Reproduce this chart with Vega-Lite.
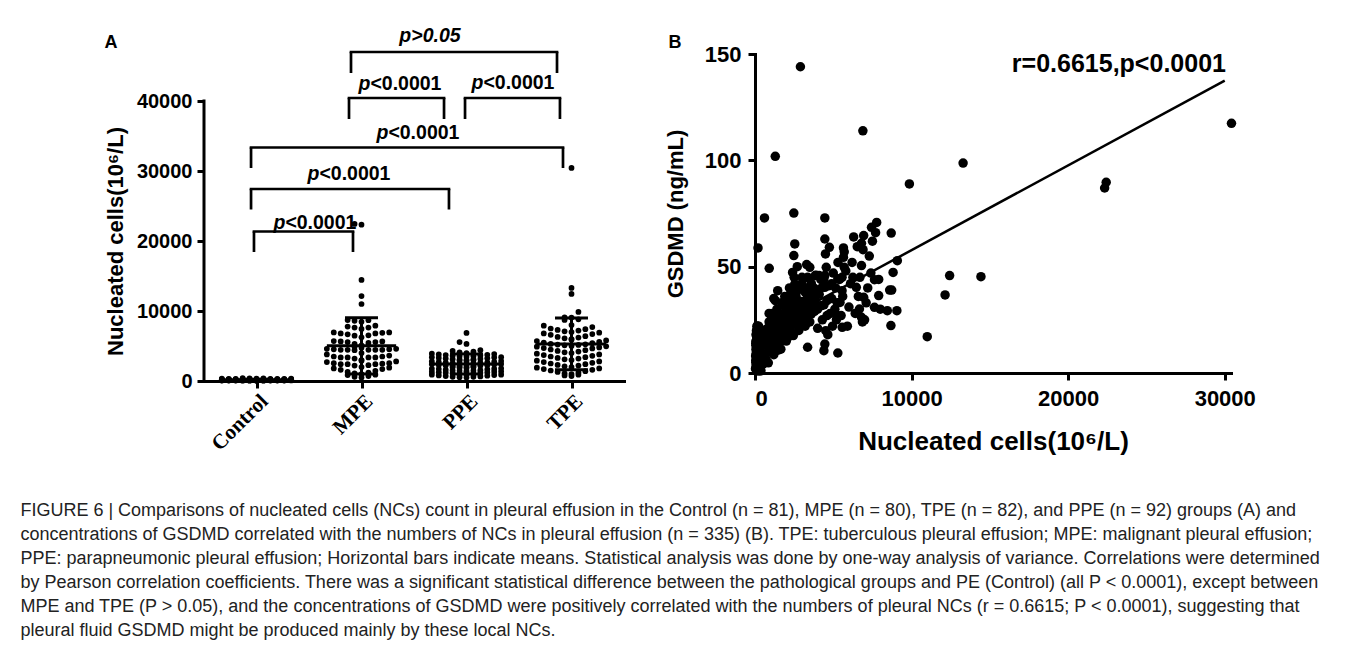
{
"$schema": "https://vega.github.io/schema/vega-lite/v6.json",
"background": "white",
"padding": {"left": 20, "top": 25, "right": 5, "bottom": 5},
"spacing": 40,
"title": {
"text": [
"FIGURE 6 | Comparisons of nucleated cells (NCs) count in pleural effusion in the Control (n = 81), MPE (n = 80), TPE (n = 82), and PPE (n = 92) groups (A) and",
"concentrations of GSDMD correlated with the numbers of NCs in pleural effusion (n = 335) (B). TPE: tuberculous pleural effusion; MPE: malignant pleural effusion;",
"PPE: parapneumonic pleural effusion; Horizontal bars indicate means. Statistical analysis was done by one-way analysis of variance. Correlations were determined",
"by Pearson correlation coefficients. There was a significant statistical difference between the pathological groups and PE (Control) (all P < 0.0001), except between",
"MPE and TPE (P > 0.05), and the concentrations of GSDMD were positively correlated with the numbers of pleural NCs (r = 0.6615; P < 0.0001), suggesting that",
"pleural fluid GSDMD might be produced mainly by these local NCs."
],
"orient": "bottom", "anchor": "start", "frame": "bounds", "offset": 48, "dx": -84,
"font": "Liberation Sans", "fontSize": 18, "fontWeight": "normal", "color": "#222", "lineHeight": 24, "baseline": "top"
},
"datasets": {
"pts": [
{"g":"Control","nc":30,"gs":2},{"g":"Control","nc":40,"gs":8},{"g":"Control","nc":50,"gs":14},{"g":"Control","nc":55,"gs":5},{"g":"Control","nc":60,"gs":11},{"g":"Control","nc":65,"gs":18},{"g":"Control","nc":70,"gs":3},{"g":"Control","nc":75,"gs":9},{"g":"Control","nc":80,"gs":15},{"g":"Control","nc":85,"gs":6},
{"g":"Control","nc":90,"gs":12},{"g":"Control","nc":95,"gs":20},{"g":"Control","nc":100,"gs":1},{"g":"Control","nc":105,"gs":7},{"g":"Control","nc":110,"gs":13},{"g":"Control","nc":115,"gs":4},{"g":"Control","nc":120,"gs":10},{"g":"Control","nc":125,"gs":17},{"g":"Control","nc":130,"gs":22},{"g":"Control","nc":135,"gs":8.5},
{"g":"Control","nc":140,"gs":2},{"g":"Control","nc":145,"gs":8},{"g":"Control","nc":150,"gs":14},{"g":"Control","nc":155,"gs":5},{"g":"Control","nc":160,"gs":11},{"g":"Control","nc":165,"gs":18},{"g":"Control","nc":170,"gs":3},{"g":"Control","nc":175,"gs":9},{"g":"Control","nc":180,"gs":15},{"g":"Control","nc":185,"gs":6},
{"g":"Control","nc":190,"gs":12},{"g":"Control","nc":193,"gs":58.8},{"g":"Control","nc":200,"gs":1},{"g":"Control","nc":205,"gs":7},{"g":"Control","nc":210,"gs":13},{"g":"Control","nc":215,"gs":4},{"g":"Control","nc":220,"gs":10},{"g":"Control","nc":225,"gs":17},{"g":"Control","nc":230,"gs":22},{"g":"Control","nc":240,"gs":8.5},
{"g":"Control","nc":250,"gs":2},{"g":"Control","nc":260,"gs":8},{"g":"Control","nc":270,"gs":14},{"g":"Control","nc":280,"gs":5},{"g":"Control","nc":290,"gs":11},{"g":"Control","nc":300,"gs":18},{"g":"Control","nc":310,"gs":3},{"g":"Control","nc":320,"gs":9},{"g":"Control","nc":330,"gs":15},{"g":"Control","nc":340,"gs":6},
{"g":"Control","nc":350,"gs":12},{"g":"Control","nc":360,"gs":20},{"g":"Control","nc":380,"gs":1},{"g":"Control","nc":400,"gs":7},{"g":"Control","nc":60,"gs":13},{"g":"Control","nc":80,"gs":4},{"g":"Control","nc":100,"gs":10},{"g":"Control","nc":120,"gs":17},{"g":"Control","nc":140,"gs":22},{"g":"Control","nc":160,"gs":8.5},
{"g":"Control","nc":180,"gs":2},{"g":"Control","nc":200,"gs":8},{"g":"Control","nc":220,"gs":14},{"g":"Control","nc":110,"gs":5},{"g":"Control","nc":130,"gs":11},{"g":"Control","nc":150,"gs":18},{"g":"Control","nc":170,"gs":3},{"g":"Control","nc":90,"gs":9},{"g":"Control","nc":70,"gs":15},{"g":"Control","nc":50,"gs":6},
{"g":"Control","nc":250,"gs":12},{"g":"Control","nc":270,"gs":20},{"g":"Control","nc":300,"gs":1},{"g":"Control","nc":150,"gs":7},{"g":"Control","nc":100,"gs":13},{"g":"Control","nc":120,"gs":4},{"g":"Control","nc":140,"gs":10},{"g":"Control","nc":160,"gs":17},{"g":"Control","nc":180,"gs":22},{"g":"Control","nc":200,"gs":8.5},
{"g":"Control","nc":130,"gs":2},
{"g":"MPE","nc":8700,"gs":65.8},{"g":"MPE","nc":8680,"gs":22.3},{"g":"MPE","nc":8600,"gs":39},{"g":"MPE","nc":8450,"gs":29.3},{"g":"MPE","nc":7900,"gs":36.4},{"g":"MPE","nc":7630,"gs":43.9},{"g":"MPE","nc":7770,"gs":70.8},{"g":"MPE","nc":7440,"gs":68.5},{"g":"MPE","nc":7630,"gs":30.9},{"g":"MPE","nc":6940,"gs":64.6},
{"g":"MPE","nc":6530,"gs":59.4},{"g":"MPE","nc":6800,"gs":50.5},{"g":"MPE","nc":6250,"gs":45},{"g":"MPE","nc":6470,"gs":40.3},{"g":"MPE","nc":6940,"gs":35.6},{"g":"MPE","nc":6670,"gs":30.1},{"g":"MPE","nc":6800,"gs":26.2},{"g":"MPE","nc":5650,"gs":58.8},{"g":"MPE","nc":5650,"gs":54.4},{"g":"MPE","nc":5700,"gs":49.7},
{"g":"MPE","nc":5560,"gs":45},{"g":"MPE","nc":5560,"gs":38.7},{"g":"MPE","nc":5430,"gs":33.2},{"g":"MPE","nc":5290,"gs":9.4},{"g":"MPE","nc":5100,"gs":28},{"g":"MPE","nc":4900,"gs":42},{"g":"MPE","nc":4750,"gs":59.1},{"g":"MPE","nc":4460,"gs":63},{"g":"MPE","nc":4460,"gs":72.9},{"g":"MPE","nc":4550,"gs":49.7},
{"g":"MPE","nc":4460,"gs":45.8},{"g":"MPE","nc":4460,"gs":40.3},{"g":"MPE","nc":4600,"gs":34},{"g":"MPE","nc":4600,"gs":27},{"g":"MPE","nc":4520,"gs":19.9},{"g":"MPE","nc":4460,"gs":13.6},{"g":"MPE","nc":4400,"gs":10.5},{"g":"MPE","nc":4000,"gs":30},{"g":"MPE","nc":3800,"gs":38},{"g":"MPE","nc":3640,"gs":30.9},
{"g":"MPE","nc":3500,"gs":49.7},{"g":"MPE","nc":3360,"gs":45},{"g":"MPE","nc":3500,"gs":40.3},{"g":"MPE","nc":3360,"gs":35.6},{"g":"MPE","nc":3360,"gs":26.2},{"g":"MPE","nc":3360,"gs":12.1},{"g":"MPE","nc":3200,"gs":22},{"g":"MPE","nc":3000,"gs":42},{"g":"MPE","nc":2900,"gs":144},{"g":"MPE","nc":2800,"gs":32},
{"g":"MPE","nc":2700,"gs":50},{"g":"MPE","nc":2540,"gs":60.7},{"g":"MPE","nc":2480,"gs":55.2},{"g":"MPE","nc":2400,"gs":47.3},{"g":"MPE","nc":2540,"gs":41.8},{"g":"MPE","nc":2260,"gs":37.1},{"g":"MPE","nc":2200,"gs":30.9},{"g":"MPE","nc":2400,"gs":24.6},{"g":"MPE","nc":2400,"gs":18.3},{"g":"MPE","nc":2000,"gs":28},
{"g":"MPE","nc":1900,"gs":33},{"g":"MPE","nc":1800,"gs":20},{"g":"MPE","nc":1700,"gs":15},{"g":"MPE","nc":1600,"gs":25},{"g":"MPE","nc":1450,"gs":38.7},{"g":"MPE","nc":1300,"gs":34},{"g":"MPE","nc":1200,"gs":22},{"g":"MPE","nc":1100,"gs":28},{"g":"MPE","nc":1000,"gs":18},{"g":"MPE","nc":900,"gs":24},
{"g":"MPE","nc":850,"gs":12},{"g":"MPE","nc":700,"gs":16},{"g":"MPE","nc":600,"gs":20},{"g":"MPE","nc":500,"gs":14},{"g":"MPE","nc":6890,"gs":113.9},{"g":"MPE","nc":22430,"gs":89.7},{"g":"MPE","nc":22330,"gs":87},{"g":"MPE","nc":14430,"gs":45.3},{"g":"MPE","nc":12140,"gs":36.7},{"g":"MPE","nc":11000,"gs":17.1},
{"g":"PPE","nc":500,"gs":4},{"g":"PPE","nc":550,"gs":14.4},{"g":"PPE","nc":600,"gs":8.8},{"g":"PPE","nc":606,"gs":72.9},{"g":"PPE","nc":650,"gs":20.2},{"g":"PPE","nc":700,"gs":6.6},{"g":"PPE","nc":750,"gs":13},{"g":"PPE","nc":800,"gs":19.4},{"g":"PPE","nc":850,"gs":4.8},{"g":"PPE","nc":900,"gs":13.2},
{"g":"PPE","nc":909,"gs":49.2},{"g":"PPE","nc":950,"gs":16.6},{"g":"PPE","nc":1000,"gs":10},{"g":"PPE","nc":1050,"gs":25.4},{"g":"PPE","nc":1100,"gs":13.8},{"g":"PPE","nc":1150,"gs":20.2},{"g":"PPE","nc":1200,"gs":8.6},{"g":"PPE","nc":1250,"gs":18},{"g":"PPE","nc":1295,"gs":101.9},{"g":"PPE","nc":1300,"gs":10.4},
{"g":"PPE","nc":1350,"gs":20.8},{"g":"PPE","nc":1400,"gs":15.2},{"g":"PPE","nc":1450,"gs":26.6},{"g":"PPE","nc":1500,"gs":13},{"g":"PPE","nc":1550,"gs":19.4},{"g":"PPE","nc":1600,"gs":25.8},{"g":"PPE","nc":1650,"gs":11.2},{"g":"PPE","nc":1700,"gs":19.6},{"g":"PPE","nc":1750,"gs":23},{"g":"PPE","nc":1800,"gs":16.4},
{"g":"PPE","nc":1850,"gs":31.8},{"g":"PPE","nc":1900,"gs":20.2},{"g":"PPE","nc":1950,"gs":26.6},{"g":"PPE","nc":2000,"gs":15},{"g":"PPE","nc":2050,"gs":24.4},{"g":"PPE","nc":2100,"gs":16.8},{"g":"PPE","nc":2150,"gs":27.2},{"g":"PPE","nc":2200,"gs":21.6},{"g":"PPE","nc":2250,"gs":33},{"g":"PPE","nc":2300,"gs":19.4},
{"g":"PPE","nc":2350,"gs":25.8},{"g":"PPE","nc":2400,"gs":32.2},{"g":"PPE","nc":2450,"gs":17.6},{"g":"PPE","nc":2480,"gs":75.2},{"g":"PPE","nc":2500,"gs":26},{"g":"PPE","nc":2550,"gs":29.4},{"g":"PPE","nc":2600,"gs":22.8},{"g":"PPE","nc":2650,"gs":38.2},{"g":"PPE","nc":2700,"gs":26.6},{"g":"PPE","nc":2750,"gs":33},
{"g":"PPE","nc":2800,"gs":21.4},{"g":"PPE","nc":2850,"gs":30.8},{"g":"PPE","nc":2900,"gs":23.2},{"g":"PPE","nc":2950,"gs":33.6},{"g":"PPE","nc":3000,"gs":28},{"g":"PPE","nc":3050,"gs":39.4},{"g":"PPE","nc":3100,"gs":25.8},{"g":"PPE","nc":3150,"gs":32.2},{"g":"PPE","nc":3200,"gs":38.6},{"g":"PPE","nc":3250,"gs":24},
{"g":"PPE","nc":3300,"gs":32.4},{"g":"PPE","nc":3350,"gs":35.8},{"g":"PPE","nc":3400,"gs":29.2},{"g":"PPE","nc":3450,"gs":44.6},{"g":"PPE","nc":3500,"gs":33},{"g":"PPE","nc":3550,"gs":39.4},{"g":"PPE","nc":3600,"gs":27.8},{"g":"PPE","nc":3650,"gs":37.2},{"g":"PPE","nc":3700,"gs":29.6},{"g":"PPE","nc":3750,"gs":40},
{"g":"PPE","nc":3800,"gs":34.4},{"g":"PPE","nc":3850,"gs":45.8},{"g":"PPE","nc":3900,"gs":32.2},{"g":"PPE","nc":4000,"gs":39},{"g":"PPE","nc":4100,"gs":45.8},{"g":"PPE","nc":4200,"gs":31.6},{"g":"PPE","nc":4290,"gs":40.3},{"g":"PPE","nc":4400,"gs":44.2},{"g":"PPE","nc":5290,"gs":44.3},{"g":"PPE","nc":5570,"gs":21.5},
{"g":"PPE","nc":6860,"gs":24},{"g":"PPE","nc":1020,"gs":13.2},{"g":"PPE","nc":1180,"gs":20.4},{"g":"PPE","nc":1480,"gs":10.8},{"g":"PPE","nc":1720,"gs":21.8},{"g":"PPE","nc":1980,"gs":15.8},{"g":"PPE","nc":2180,"gs":27.4},{"g":"PPE","nc":2420,"gs":23.4},{"g":"PPE","nc":2620,"gs":36},{"g":"PPE","nc":2880,"gs":24},
{"g":"PPE","nc":3120,"gs":32},{"g":"PPE","nc":3380,"gs":40},
{"g":"TPE","nc":9060,"gs":29.3},{"g":"TPE","nc":9090,"gs":52.8},{"g":"TPE","nc":8820,"gs":47.3},{"g":"TPE","nc":8730,"gs":39},{"g":"TPE","nc":7500,"gs":62},{"g":"TPE","nc":7300,"gs":55},{"g":"TPE","nc":7200,"gs":40},{"g":"TPE","nc":7100,"gs":33},{"g":"TPE","nc":7000,"gs":25},{"g":"TPE","nc":6900,"gs":58},
{"g":"TPE","nc":6700,"gs":45},{"g":"TPE","nc":6600,"gs":36},{"g":"TPE","nc":6400,"gs":28},{"g":"TPE","nc":6200,"gs":52},{"g":"TPE","nc":6100,"gs":42},{"g":"TPE","nc":6000,"gs":31},{"g":"TPE","nc":5900,"gs":22},{"g":"TPE","nc":5800,"gs":48},{"g":"TPE","nc":5600,"gs":36},{"g":"TPE","nc":5500,"gs":27},
{"g":"TPE","nc":5400,"gs":44},{"g":"TPE","nc":5300,"gs":52},{"g":"TPE","nc":5250,"gs":33},{"g":"TPE","nc":5200,"gs":25},{"g":"TPE","nc":5150,"gs":40},{"g":"TPE","nc":5100,"gs":30},{"g":"TPE","nc":5000,"gs":47},{"g":"TPE","nc":4950,"gs":22},{"g":"TPE","nc":4900,"gs":35},{"g":"TPE","nc":4800,"gs":28},
{"g":"TPE","nc":4700,"gs":41},{"g":"TPE","nc":4650,"gs":18},{"g":"TPE","nc":4500,"gs":56},{"g":"TPE","nc":4400,"gs":32},{"g":"TPE","nc":4300,"gs":25},{"g":"TPE","nc":4200,"gs":44},{"g":"TPE","nc":4100,"gs":37},{"g":"TPE","nc":4000,"gs":21},{"g":"TPE","nc":3900,"gs":46},{"g":"TPE","nc":3800,"gs":29},
{"g":"TPE","nc":3700,"gs":34},{"g":"TPE","nc":3600,"gs":42},{"g":"TPE","nc":3500,"gs":24},{"g":"TPE","nc":3400,"gs":31},{"g":"TPE","nc":3300,"gs":51},{"g":"TPE","nc":3200,"gs":38},{"g":"TPE","nc":3100,"gs":27},{"g":"TPE","nc":3000,"gs":45},{"g":"TPE","nc":2900,"gs":33},{"g":"TPE","nc":2800,"gs":20},
{"g":"TPE","nc":2700,"gs":40},{"g":"TPE","nc":2600,"gs":29},{"g":"TPE","nc":2500,"gs":45},{"g":"TPE","nc":2400,"gs":35},{"g":"TPE","nc":2300,"gs":26},{"g":"TPE","nc":2200,"gs":40},{"g":"TPE","nc":2100,"gs":31},{"g":"TPE","nc":2000,"gs":22},{"g":"TPE","nc":1900,"gs":36},{"g":"TPE","nc":1800,"gs":28},
{"g":"TPE","nc":1700,"gs":33},{"g":"TPE","nc":1600,"gs":19},{"g":"TPE","nc":1500,"gs":26},{"g":"TPE","nc":1400,"gs":30},{"g":"TPE","nc":1300,"gs":21},{"g":"TPE","nc":1200,"gs":35},{"g":"TPE","nc":1100,"gs":25},{"g":"TPE","nc":1000,"gs":17},{"g":"TPE","nc":900,"gs":28},{"g":"TPE","nc":800,"gs":21},
{"g":"TPE","nc":700,"gs":15},{"g":"TPE","nc":7700,"gs":66},{"g":"TPE","nc":7900,"gs":44},{"g":"TPE","nc":8000,"gs":30},{"g":"TPE","nc":6800,"gs":61},{"g":"TPE","nc":7400,"gs":47},{"g":"TPE","nc":5700,"gs":57},{"g":"TPE","nc":6300,"gs":64},
{"g":"TPE","nc":30430,"gs":117.4},{"g":"TPE","nc":13290,"gs":98.7},{"g":"TPE","nc":12430,"gs":45.8},{"g":"TPE","nc":9860,"gs":88.9}
],
"stats": [
{"gi":1,"mean":165,"sd":90},{"gi":2,"mean":5020,"sd":4020},{"gi":3,"mean":2430,"sd":1430},{"gi":4,"mean":5300,"sd":3700}
],
"br": [
{"x1":0.976,"x2":1.919,"y":21360,"yb":18430},
{"x1":0.948,"x2":2.833,"y":27430,"yb":24500},
{"x1":0.948,"x2":3.919,"y":33360,"yb":30430},
{"x1":1.881,"x2":2.786,"y":40430,"yb":37430},
{"x1":2.986,"x2":3.890,"y":40430,"yb":37430},
{"x1":1.9,"x2":3.862,"y":47000,"yb":44000}
],
"lab": [
{"xs":1.275,"y":22570},{"xs":1.599,"y":29570},{"xs":2.256,"y":35430},{"xs":2.085,"y":42430},{"xs":3.161,"y":42570}
],
"topA": [{"t":"p>0.05","x":2.652,"y":49290}],
"letA": [{"t":"A","x":-0.386,"y":48290}],
"axA": [{"x":0.5,"y1":0,"y2":40000}],
"fit": [{"nc":0,"gs":17.9},{"nc":30000,"gs":137.5}],
"ann": [{"t":"r=0.6615,p<0.0001","nc":30077,"gs":145.3}],
"letB": [{"t":"B","nc":-5109,"gs":155.1}]
},
"hconcat": [
{
"width": 420, "height": 327,
"layer": [
{
"data": {"name": "pts"},
"transform": [
{"calculate": "indexof(['Control','MPE','PPE','TPE'], datum.g) + 1", "as": "gi"},
{"calculate": "floor(datum.nc / 1000)", "as": "row"},
{"window": [{"op": "row_number", "as": "r"}], "groupby": ["g", "row"], "sort": [{"field": "nc", "order": "ascending"}]},
{"calculate": "(datum.r - 1) % 11", "as": "k"},
{"calculate": "datum.gi + (datum.k % 2 == 0 ? datum.k / 2 : -(datum.k + 1) / 2) * 0.066", "as": "xp"}
],
"mark": {"type": "circle", "size": 33, "color": "#000", "opacity": 1},
"encoding": {
"x": {"field": "xp", "type": "quantitative", "scale": {"domain": [0.5, 4.5], "nice": false, "zero": false},
"axis": {"values": [1, 2, 3, 4], "labelExpr": "['','Control','MPE','PPE','TPE'][datum.value]", "title": null, "labelAngle": -45, "labelAlign": "right", "labelBaseline": "top", "labelFont": "Liberation Serif", "labelFontSize": 21, "labelPadding": 2}},
"y": {"field": "nc", "type": "quantitative", "scale": {"domain": [0, 46714.3], "nice": false},
"axis": {"values": [0, 10000, 20000, 30000, 40000], "format": "d", "domain": false, "title": "Nucleated cells(10⁶/L)", "titleY": 187, "labelFontSize": 20, "titleFontSize": 22, "labelPadding": 5, "titlePadding": 9}}
}
},
{
"data": {"name": "axA"},
"mark": {"type": "rule", "strokeWidth": 3, "color": "#000", "strokeCap": "square"},
"encoding": {"x": {"field": "x", "type": "quantitative"}, "y": {"field": "y1", "type": "quantitative"}, "y2": {"field": "y2"}}
},
{
"data": {"name": "stats"},
"transform": [
{"calculate": "datum.gi - 0.33", "as": "m1"},
{"calculate": "datum.gi + 0.33", "as": "m2"},
{"calculate": "datum.gi - 0.157", "as": "c1"},
{"calculate": "datum.gi + 0.157", "as": "c2"},
{"calculate": "datum.mean + datum.sd", "as": "hi"},
{"calculate": "max(0, datum.mean - datum.sd)", "as": "lo"}
],
"layer": [
{"mark": {"type": "rule", "strokeWidth": 3, "color": "#000"}, "encoding": {"x": {"field": "m1", "type": "quantitative"}, "x2": {"field": "m2"}, "y": {"field": "mean", "type": "quantitative"}}},
{"mark": {"type": "rule", "strokeWidth": 3, "color": "#000"}, "encoding": {"x": {"field": "gi", "type": "quantitative"}, "y": {"field": "lo", "type": "quantitative"}, "y2": {"field": "hi"}}},
{"mark": {"type": "rule", "strokeWidth": 3, "color": "#000"}, "encoding": {"x": {"field": "c1", "type": "quantitative"}, "x2": {"field": "c2"}, "y": {"field": "hi", "type": "quantitative"}}},
{"mark": {"type": "rule", "strokeWidth": 3, "color": "#000"}, "encoding": {"x": {"field": "c1", "type": "quantitative"}, "x2": {"field": "c2"}, "y": {"field": "lo", "type": "quantitative"}}}
]
},
{
"data": {"name": "br"},
"layer": [
{"mark": {"type": "rule", "strokeWidth": 2.7, "color": "#000", "strokeCap": "square"}, "encoding": {"x": {"field": "x1", "type": "quantitative"}, "x2": {"field": "x2"}, "y": {"field": "y", "type": "quantitative"}}},
{"mark": {"type": "rule", "strokeWidth": 2.7, "color": "#000"}, "encoding": {"x": {"field": "x1", "type": "quantitative"}, "y": {"field": "yb", "type": "quantitative"}, "y2": {"field": "y"}}},
{"mark": {"type": "rule", "strokeWidth": 2.7, "color": "#000"}, "encoding": {"x": {"field": "x2", "type": "quantitative"}, "y": {"field": "yb", "type": "quantitative"}, "y2": {"field": "y"}}}
]
},
{
"data": {"name": "lab"},
"layer": [
{"mark": {"type": "text", "text": "p", "align": "right", "baseline": "middle", "fontStyle": "italic", "fontWeight": "bold", "fontSize": 19.5, "font": "Liberation Sans", "color": "#000"}, "encoding": {"x": {"field": "xs", "type": "quantitative"}, "y": {"field": "y", "type": "quantitative"}}},
{"mark": {"type": "text", "text": "<0.0001", "align": "left", "baseline": "middle", "fontWeight": "bold", "fontSize": 19.5, "font": "Liberation Sans", "color": "#000"}, "encoding": {"x": {"field": "xs", "type": "quantitative"}, "y": {"field": "y", "type": "quantitative"}}}
]
},
{
"data": {"name": "topA"},
"mark": {"type": "text", "align": "center", "baseline": "middle", "fontStyle": "italic", "fontWeight": "bold", "fontSize": 19.5, "font": "Liberation Sans", "color": "#000"},
"encoding": {"x": {"field": "x", "type": "quantitative"}, "y": {"field": "y", "type": "quantitative"}, "text": {"field": "t"}}
},
{
"data": {"name": "letA"},
"mark": {"type": "text", "align": "center", "baseline": "middle", "fontWeight": "bold", "fontSize": 18, "font": "Liberation Sans", "color": "#000"},
"encoding": {"x": {"field": "x", "type": "quantitative"}, "y": {"field": "y", "type": "quantitative"}, "text": {"field": "t"}}
}
]
},
{
"width": 476, "height": 319,
"layer": [
{
"data": {"name": "pts"},
"mark": {"type": "circle", "size": 90, "color": "#000", "opacity": 1},
"encoding": {
"x": {"field": "nc", "type": "quantitative", "scale": {"domain": [0, 30400], "nice": false, "zero": false},
"axis": {"values": [0, 10000, 20000, 30000], "format": "d", "title": "Nucleated cells(10⁶/L)", "labelFontSize": 22, "titleFontSize": 26, "labelPadding": 8, "titlePadding": 19}},
"y": {"field": "gs", "type": "quantitative", "scale": {"domain": [0, 150], "nice": false},
"axis": {"values": [0, 50, 100, 150], "title": "GSDMD (ng/mL)", "labelFontSize": 22, "titleFontSize": 22, "labelPadding": 7, "titlePadding": 17}}
}
},
{
"data": {"name": "fit"},
"mark": {"type": "line", "strokeWidth": 2.5, "color": "#000"},
"encoding": {"x": {"field": "nc", "type": "quantitative"}, "y": {"field": "gs", "type": "quantitative"}}
},
{
"data": {"name": "ann"},
"mark": {"type": "text", "align": "right", "baseline": "middle", "fontWeight": "bold", "fontSize": 25, "font": "Liberation Sans", "color": "#000"},
"encoding": {"x": {"field": "nc", "type": "quantitative"}, "y": {"field": "gs", "type": "quantitative"}, "text": {"field": "t"}}
},
{
"data": {"name": "letB"},
"mark": {"type": "text", "align": "center", "baseline": "middle", "fontWeight": "bold", "fontSize": 18, "font": "Liberation Sans", "color": "#000"},
"encoding": {"x": {"field": "nc", "type": "quantitative"}, "y": {"field": "gs", "type": "quantitative"}, "text": {"field": "t"}}
}
]
}
],
"config": {
"font": "Liberation Sans",
"view": {"stroke": null},
"axis": {"domainColor": "#000", "tickColor": "#000", "labelColor": "#000", "titleColor": "#000", "domainWidth": 3, "tickWidth": 3, "tickSize": 7, "grid": false, "labelFont": "Liberation Sans", "titleFont": "Liberation Sans", "labelFontWeight": "bold", "titleFontWeight": "bold", "domainCap": "square"}
}
}
